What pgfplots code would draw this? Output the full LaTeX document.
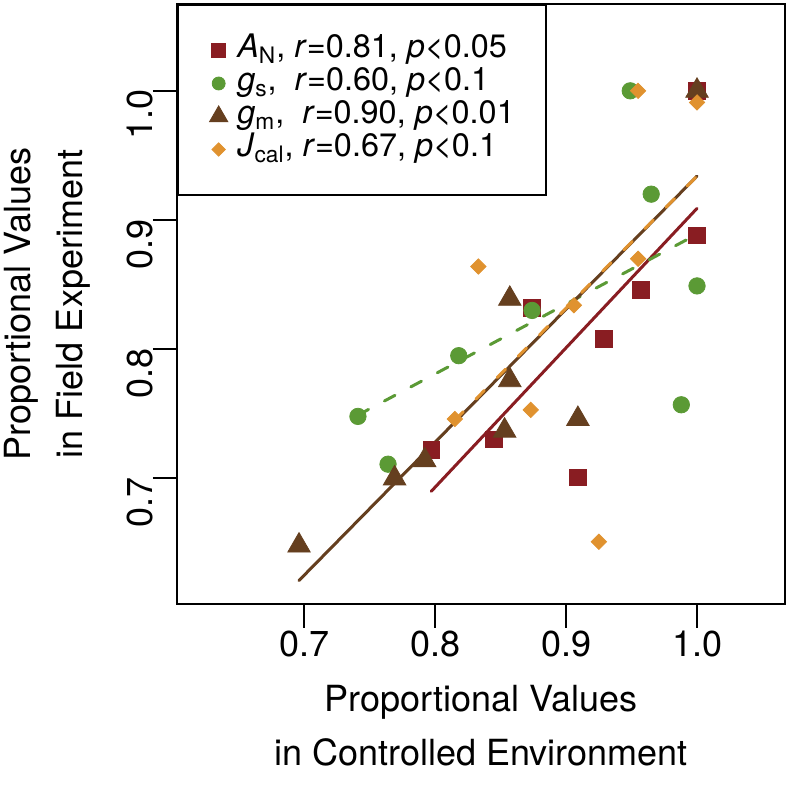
\documentclass[border=0pt]{standalone}
\usepackage{fontspec}
\setmainfont{TeX Gyre Heros}
\usepackage{pgfplots}
\pgfplotsset{compat=1.18}
\definecolor{cAN}{RGB}{137,29,34}
\definecolor{cGS}{RGB}{91,154,53}
\definecolor{cGM}{RGB}{101,63,31}
\definecolor{cJC}{RGB}{224,146,47}
\begin{document}
\begin{tikzpicture}
\begin{axis}[
  scale only axis, width=304pt, height=300pt,
  at={(0,0)}, anchor=south west,
  xmin=0.6028, xmax=1.0672, ymin=0.6028, ymax=1.0672,
  xtick={0.7,0.8,0.9,1.0}, ytick={0.7,0.8,0.9,1.0},
  xticklabels={0.7,0.8,0.9,1.0}, yticklabels={0.7,0.8,0.9,1.0},
  xtick pos=bottom, ytick pos=left,
  tick align=outside, major tick length=12pt,
  every tick/.style={black, line width=1pt},
  axis line style={line width=1pt},
  /pgf/number format/assume math mode=true,
  tick label style={font=\fontsize{18}{22}\selectfont, inner sep=0pt},
  xticklabel style={anchor=north, yshift=-1.5pt},
  yticklabel style={rotate=90, anchor=south, xshift=-12pt},
  xlabel={Proportional Values\\in Controlled Environment},
  ylabel={Proportional Values\\in Field Experiment},
  x label style={font=\fontsize{18}{27}\selectfont, align=center,
    at={([yshift=-61pt]axis description cs:0.5,0)}, anchor=center},
  y label style={font=\fontsize{18}{26}\selectfont, align=center,
    at={([xshift=-64.75pt]axis description cs:0,0.5)}, anchor=center},
  legend style={at={(0,1)}, anchor=north west, draw=black, line width=1pt, fill=white,
    inner xsep=15.75pt, inner ysep=14.5pt, row sep=0pt, column sep=4.75pt,
    font=\fontsize{16.2}{19}\selectfont,
    nodes={inner sep=0pt, text height=12pt, text depth=4.5pt}},
  legend cell align=left,
]
\addlegendimage{only marks, mark=square*, color=cAN, mark size=3.5pt, line width=0.4pt}
\addlegendentry{\textit{A}\textsubscript{N}, \textit{r}=0.81, \textit{p}<0.05}
\addlegendimage{only marks, mark=*, color=cGS, mark size=3.25pt, line width=0.4pt}
\addlegendentry{\textit{g}\textsubscript{s},\ \ \textit{r}=0.60, \textit{p}<0.1}
\addlegendimage{only marks, mark=triangle*, color=cGM, mark size=5.3pt, line width=0.4pt}
\addlegendentry{\textit{g}\textsubscript{m},\ \ \textit{r}=0.90, \textit{p}<0.01}
\addlegendimage{only marks, mark=square*, mark options={rotate=45}, color=cJC, mark size=2.35pt, line width=0.4pt}
\addlegendentry{\textit{J}\textsubscript{cal}, \textit{r}=0.67, \textit{p}<0.1}

% A_N
\addplot[forget plot, only marks, mark=square*, color=cAN, mark size=4.1pt] coordinates {
 (1.0,1.0) (1.0,0.888) (0.957,0.846) (0.929,0.808) (0.874,0.832) (0.845,0.730) (0.797,0.722) (0.909,0.701)};
% g_s
\addplot[forget plot, only marks, mark=*, color=cGS, mark size=4.1pt] coordinates {
 (0.949,1.0) (0.965,0.920) (1.0,0.849) (0.988,0.757) (0.874,0.830) (0.818,0.795) (0.741,0.748) (0.764,0.711)};
% g_m
\addplot[forget plot, only marks, mark=triangle*, color=cGM, mark size=6.5pt] coordinates {
 (1.0,1.0) (0.857,0.839) (0.857,0.776) (0.853,0.737) (0.909,0.746) (0.792,0.714) (0.769,0.700) (0.696,0.648)};
% J_cal
\addplot[forget plot, only marks, mark=square*, mark options={rotate=45}, color=cJC, mark size=2.7pt] coordinates {
 (0.955,1.0) (1.0,0.991) (0.833,0.864) (0.955,0.870) (0.906,0.834) (0.873,0.753) (0.815,0.746) (0.925,0.651)};

% regression lines
\addplot[forget plot, color=cAN, line width=1.5pt, line cap=round] coordinates {(0.797,0.690) (1.0,0.909)};
\addplot[forget plot, color=cGS, line width=1.5pt, line cap=round, dash pattern=on 6pt off 9pt] coordinates {(0.741,0.749) (1.0,0.889)};
\addplot[forget plot, color=cGM, line width=1.5pt, line cap=round] coordinates {(0.696,0.621) (1.0,0.934)};
\addplot[forget plot, color=cJC, line width=1.5pt, line cap=round, dash pattern=on 6pt off 9pt] coordinates {(0.815,0.745) (1.0,0.934)};
\end{axis}
\pgfresetboundingbox
\path (-88.5pt,-91pt) rectangle (305pt,302pt);
\end{tikzpicture}
\end{document}
